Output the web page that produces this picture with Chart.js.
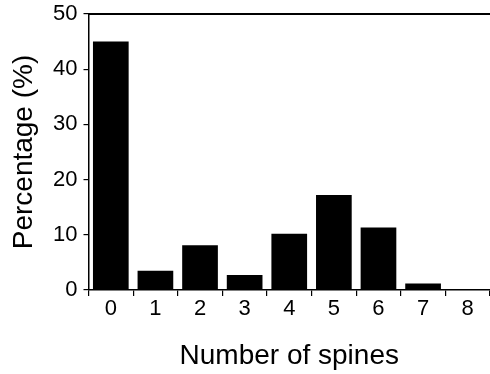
<!DOCTYPE html>
<html>
<head>
<meta charset="utf-8">
<script src="https://cdn.jsdelivr.net/npm/chart.js@4/dist/chart.umd.min.js"></script>
<style>
html,body{margin:0;padding:0;background:#fff;}
#wrap{width:490px;height:374px;position:relative;}
</style>
</head>
<body>
<div id="wrap"><canvas id="c" width="490" height="374"></canvas></div>
<script>
const categories = ["0","1","2","3","4","5","6","7","8"];
const percentages = [45, 3.5, 8.1, 2.7, 10.2, 17.2, 11.3, 1.2, 0.2];
const yTicks = [0, 10, 20, 30, 40, 50];

const FONT = "'Liberation Sans', Arial, sans-serif";

const topBorder = {
  id: 'topBorder',
  afterDraw(chart) {
    const {ctx, chartArea} = chart;
    ctx.save();
    ctx.strokeStyle = '#000';
    ctx.lineWidth = 1.8;
    ctx.beginPath();
    ctx.moveTo(chartArea.left, chartArea.top);
    ctx.lineTo(chartArea.right, chartArea.top);
    ctx.stroke();
    ctx.restore();
  }
};

new Chart(document.getElementById('c'), {
  type: 'bar',
  data: {
    labels: categories,
    datasets: [{
      data: percentages,
      backgroundColor: '#000',
      borderWidth: 0,
      barPercentage: 0.8,
      categoryPercentage: 1.0
    }]
  },
  options: {
    responsive: false,
    animation: false,
    devicePixelRatio: 1,
    layout: {padding: {top: 14, right: 0, left: 0, bottom: 0}},
    plugins: {legend: {display: false}, tooltip: {enabled: false}},
    scales: {
      x: {
        grid: {display: true, offset: true, drawOnChartArea: false, drawTicks: true, tickLength: 6, color: '#000', lineWidth: 1.2},
        border: {display: true, color: '#000', width: 1.5},
        ticks: {color: '#000', font: {family: FONT, size: 22}, padding: 0, maxRotation: 0},
        title: {display: true, text: 'Number of spines', color: '#000', font: {family: FONT, size: 28}, padding: {top: 0, bottom: 1}},
        afterFit(scale) { scale.height = 84; scale.paddingLeft = 0; scale.paddingRight = 0; }
      },
      y: {
        min: 0, max: 50,
        afterBuildTicks(scale) { scale.ticks = yTicks.map(v => ({value: v})); },
        grid: {display: true, drawOnChartArea: false, drawTicks: true, tickLength: 5, color: '#000', lineWidth: 1.2},
        border: {display: true, color: '#000', width: 1.5},
        ticks: {color: '#000', font: {family: FONT, size: 22}, padding: 6},
        title: {display: true, text: 'Percentage (%)', color: '#000', font: {family: FONT, size: 28}, padding: {top: 7, bottom: 0}},
        afterFit(scale) { scale.width = 88.5; scale.paddingTop = 0; scale.paddingBottom = 0; }
      }
    }
  },
  plugins: [topBorder]
});
</script>
</body>
</html>
